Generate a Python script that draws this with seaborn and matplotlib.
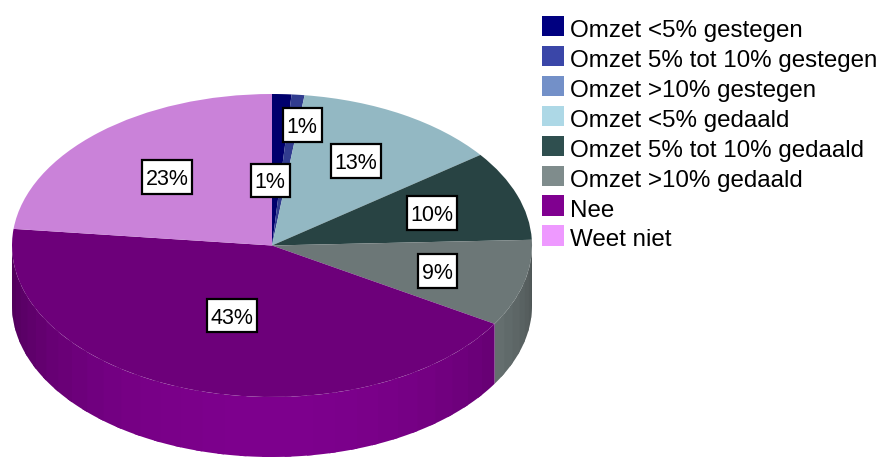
import numpy as np
import matplotlib
matplotlib.use("Agg")
import matplotlib.pyplot as plt
import seaborn as sns
from matplotlib.patches import Patch, Polygon, Rectangle

categories = ["Omzet <5% gestegen", "Omzet 5% tot 10% gestegen", "Omzet >10% gestegen",
              "Omzet <5% gedaald", "Omzet 5% tot 10% gedaald", "Omzet >10% gedaald",
              "Nee", "Weet niet"]
values = [1.2, 0.8, 0.0, 12.8, 9.6, 9.25, 43.1, 23.25]
value_labels = ["1%", "1%", "", "13%", "10%", "9%", "43%", "23%"]
legend_colors = ["#000080", "#3a46a8", "#7390c8", "#add8e6", "#2f4f4f", "#7f8c8c", "#800090", "#ee99ff"]

sns.set_theme(style="white")
plt.rcParams["font.family"] = ["Liberation Sans", "DejaVu Sans"]

W, H = 882, 457
CX, CY, RX, RY, DEPTH = 272, 245.5, 260, 151.5, 60
TOP_SHADE = 0.85

fig = plt.figure(figsize=(W / 100, H / 100), dpi=100, facecolor="white")
ax = fig.add_axes([0, 0, 1, 1])

palette = sns.color_palette(legend_colors)
top_colors = [tuple(c * TOP_SHADE for c in col) for col in palette]

# Side wall of the disc, shaded facet by facet (each facet overlaps the next to avoid seams)
fractions = np.cumsum([0] + values) / sum(values) * 360
d = DEPTH / RY
for start, end, col in zip(fractions[:-1], fractions[1:], palette):
    lo, hi = max(start, 90), min(end, 270)
    if hi <= lo:
        continue
    n = max(1, int(np.ceil((hi - lo) / 5)))
    edges = np.linspace(lo, hi, n + 1)
    for a, b in zip(edges[:-1], edges[1:]):
        t = np.radians(np.linspace(a, min(b + 1.5, hi), 8))
        f = 0.60 + 0.38 * np.cos(np.radians((a + b) / 2 - 180))
        shade = tuple(c * f for c in col)
        x, y = np.sin(t), np.cos(t)
        pts = np.r_[np.c_[x, y], np.c_[x[::-1], y[::-1] - d]]
        ax.add_patch(Polygon(pts, closed=True, facecolor=shade, edgecolor="none", lw=0, zorder=1))

# Top face
wedges, _ = ax.pie(values, colors=top_colors, startangle=90, counterclock=False,
                   radius=1, center=(0, 0), wedgeprops=dict(linewidth=0))
for w in wedges:
    w.set_zorder(2)

ax.set_aspect("auto")
ax.set_xlim(-CX / RX, (W - CX) / RX)
ax.set_ylim((CY - H) / RY, CY / RY)
ax.axis("off")

# Value boxes (centre in pixels)
label_px = [(270, 180.5), (302, 125), None, (356, 161), (432, 213), (437, 271), (232, 315.5), (167, 177)]
BOX_H = 33.5
for txt, p in zip(value_labels, label_px):
    if p is None:
        continue
    w_px = 39 if len(txt) == 2 else 50.5
    ax.add_patch(Rectangle(((p[0] - w_px / 2 - CX) / RX, (CY - p[1] - BOX_H / 2) / RY),
                           w_px / RX, BOX_H / RY, facecolor="white", edgecolor="black",
                           linewidth=1.6, zorder=4))
    ax.text((p[0] - CX) / RX, (CY - p[1]) / RY, txt, ha="center", va="center_baseline",
            fontsize=15.5, color="black", zorder=5)

handles = [Patch(facecolor=c, edgecolor="none") for c in palette]
leg = fig.legend(handles, categories, loc="upper left", bbox_to_anchor=(542 / W, 1 - 16 / H),
                 bbox_transform=fig.transFigure, frameon=False, fontsize=17.4,
                 handlelength=0.92, handleheight=0.92, handletextpad=0.25,
                 labelspacing=0.265, borderpad=0, borderaxespad=0, labelcolor="black")
for t in leg.get_texts():
    t.set_position((0, -2.5))

fig.savefig("out.png", dpi=100, facecolor="white")
